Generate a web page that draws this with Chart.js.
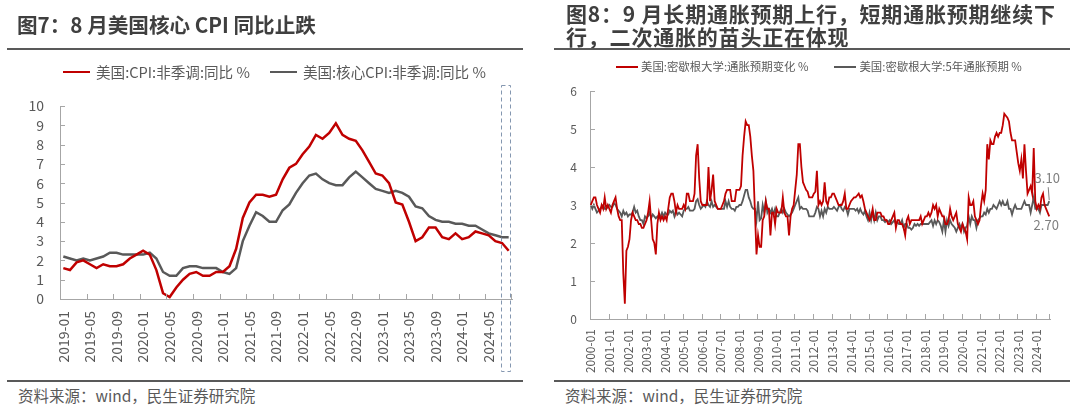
<!DOCTYPE html>
<html>
<head>
<meta charset="utf-8">
<script src="https://cdn.jsdelivr.net/npm/chart.js@4.4.1/dist/chart.umd.min.js"></script>
<style>
  body { margin: 0; width: 1080px; height: 414px; background: #fff; position: relative; overflow: hidden;
         font-family: "Noto Sans CJK SC", "Noto Sans", sans-serif; }
  canvas { position: absolute; top: 0; }
  .title { position: absolute; font-weight: bold; color: #3f3f3f; white-space: nowrap; line-height: 1; }
  .rule { position: absolute; height: 2px; background: #595959; }
  .src { position: absolute; font-size: 15.5px; color: #595959; white-space: nowrap; line-height: 1; }
  .legend { position: absolute; display: flex; align-items: center; color: #595959; white-space: nowrap; line-height: 1; }
  .legend .item { display: flex; align-items: center; }
  .legend .swatch { display: inline-block; }
</style>
</head>
<body>
<canvas id="cpi_chart" width="540" height="380" style="left:0"></canvas>
<canvas id="umich_chart" width="540" height="380" style="left:540px"></canvas>

<div class="title" style="left:17px; top:14px; font-size:20.6px;">图7：8 月美国核心 CPI 同比止跌</div>
<div class="rule" style="left:7px; top:48px; width:516px;"></div>
<div class="legend" id="cpi_legend" style="left:63px; top:65px; font-size:14.6px;"></div>
<div class="rule" style="left:7px; top:380px; width:516px;"></div>
<div class="src" style="left:18px; top:388px;">资料来源：wind，民生证券研究院</div>

<div class="title" style="left:566px; top:3px; font-size:21px; letter-spacing:0.8px;">图8：9 月长期通胀预期上行，短期通胀预期继续下</div>
<div class="title" style="left:566px; top:26px; font-size:21px; letter-spacing:0.8px;">行，二次通胀的苗头正在体现</div>
<div class="rule" style="left:554px; top:48px; width:516px;"></div>
<div class="legend" id="umich_legend" style="left:616px; top:61px; font-size:11.4px;"></div>
<div class="rule" style="left:554px; top:380px; width:516px;"></div>
<div class="src" style="left:565px; top:388px;">资料来源：wind，民生证券研究院</div>

<script>
// ---- data ----
const cpiYoY = [
  1.6, 1.5, 1.9, 2.0, 1.8, 1.6, 1.8, 1.7, 1.7, 1.8, 2.1, 2.3,
  2.5, 2.3, 1.5, 0.3, 0.1, 0.6, 1.0, 1.3, 1.4, 1.2, 1.2, 1.4,
  1.4, 1.7, 2.6, 4.2, 5.0, 5.4, 5.4, 5.3, 5.4, 6.2, 6.8, 7.0,
  7.5, 7.9, 8.5, 8.3, 8.6, 9.1, 8.5, 8.3, 8.2, 7.7, 7.1, 6.5,
  6.4, 6.0, 5.0, 4.9, 4.0, 3.0, 3.2, 3.7, 3.7, 3.2, 3.1, 3.4,
  3.1, 3.2, 3.5, 3.4, 3.3, 3.0, 2.9, 2.5,
];
const coreCpiYoY = [
  2.2, 2.1, 2.0, 2.1, 2.0, 2.1, 2.2, 2.4, 2.4, 2.3, 2.3, 2.3,
  2.3, 2.4, 2.1, 1.4, 1.2, 1.2, 1.6, 1.7, 1.7, 1.6, 1.6, 1.6,
  1.4, 1.3, 1.6, 3.0, 3.8, 4.5, 4.3, 4.0, 4.0, 4.6, 4.9, 5.5,
  6.0, 6.4, 6.5, 6.2, 6.0, 5.9, 5.9, 6.3, 6.6, 6.3, 6.0, 5.7,
  5.6, 5.5, 5.6, 5.5, 5.3, 4.8, 4.7, 4.3, 4.1, 4.0, 4.0, 3.9,
  3.9, 3.8, 3.8, 3.6, 3.4, 3.3, 3.2, 3.2,
];

// Michigan survey, 2000-01 .. 2024-09, one row per year
const umich1y = [
  3.0, 3.1, 3.2, 3.2, 3.0, 2.9, 2.8, 3.0, 2.9, 3.2, 2.9, 3.0,
  2.9, 2.8, 3.0, 3.1, 3.2, 2.9, 2.7, 2.6, 2.6, 1.2, 0.4, 1.8,
  1.9, 2.1, 2.6, 2.8, 2.7, 2.6, 2.6, 2.5, 2.5, 2.4, 2.4, 2.5,
  2.6, 2.8, 3.1, 2.6, 2.1, 2.0, 1.7, 2.5, 2.8, 2.6, 2.7, 2.6,
  2.7, 2.6, 2.9, 3.2, 3.3, 3.3, 3.1, 2.8, 3.0, 2.9, 2.9, 2.9,
  3.0, 2.9, 3.3, 3.3, 3.1, 3.1, 3.1, 3.3, 4.3, 4.6, 3.7, 3.1,
  3.0, 3.0, 3.0, 3.0, 4.0, 3.1, 3.4, 3.8, 3.1, 3.0, 2.9, 2.9,
  2.9, 3.0, 3.1, 3.3, 3.4, 3.4, 3.4, 3.1, 3.1, 3.1, 3.4, 3.4,
  3.4, 3.5, 4.3, 4.8, 5.2, 5.1, 5.1, 4.8, 4.3, 3.9, 2.8, 1.7,
  2.2, 1.9, 1.9, 2.6, 2.7, 3.1, 2.9, 2.9, 2.2, 2.8, 2.8, 2.5,
  2.9, 2.8, 2.8, 2.8, 3.2, 2.8, 2.7, 2.7, 2.2, 2.7, 2.9, 3.0,
  3.4, 3.8, 4.6, 4.6, 4.0, 3.6, 3.5, 3.4, 3.35, 3.2, 3.2, 3.2,
  3.3, 3.35, 3.9, 3.0, 3.1, 3.0, 3.1, 3.6, 3.1, 3.0, 3.2, 3.2,
  3.3, 3.3, 3.2, 3.1, 3.0, 3.0, 3.0, 3.1, 3.3, 2.9, 2.9, 3.0,
  3.1, 3.15, 3.2, 3.2, 3.25, 3.3, 3.2, 3.25, 3.1, 2.9, 2.8, 2.7,
  2.6, 2.7, 2.9, 2.6, 2.6, 2.8, 2.8, 2.8, 2.7, 2.7, 2.6, 2.6,
  2.5, 2.5, 2.6, 2.7, 2.8, 2.4, 2.6, 2.6, 2.5, 2.5, 2.4, 2.2,
  2.6, 2.7, 2.5, 2.6, 2.6, 2.6, 2.6, 2.6, 2.6, 2.7, 2.5, 2.6,
  2.7, 2.7, 2.8, 2.7, 2.8, 3.0, 2.9, 3.0, 2.7, 2.9, 2.8, 2.7,
  2.7, 2.5, 2.5, 2.6, 2.9, 2.7, 2.6, 2.7, 2.8, 2.5, 2.4, 2.3,
  2.5, 2.4, 2.3, 2.1, 3.2, 3.0, 3.0, 3.1, 2.7, 2.6, 2.5, 2.6,
  3.0, 3.3, 3.1, 3.4, 4.6, 4.2, 4.7, 4.6, 4.6, 4.8, 4.9, 4.8,
  4.9, 4.9, 5.1, 5.4, 5.35, 5.3, 5.2, 4.9, 4.7, 4.7, 4.7, 4.4,
  4.1, 3.9, 4.2, 3.7, 4.6, 3.9, 3.3, 3.4, 3.5, 3.3, 4.5, 3.1,
  2.9, 3.0, 2.9, 3.2, 3.3, 3.0, 2.9, 2.8, 2.7,
];
const umich5y = [
  3.0, 2.9, 3.0, 2.9, 2.8, 2.85, 2.9, 2.95, 3.0, 2.9, 2.9, 2.95,
  3.0, 2.95, 2.95, 3.05, 3.0, 2.9, 2.85, 2.8, 2.7, 2.85, 2.75, 2.8,
  2.7, 2.75, 2.75, 2.8, 2.95, 2.8, 2.85, 2.7, 2.6, 2.6, 2.5, 2.7,
  2.65, 2.7, 2.8, 2.65, 2.75, 2.7, 2.65, 2.7, 2.65, 2.7, 2.8, 2.7,
  2.8, 2.75, 2.75, 2.85, 2.8, 2.85, 2.7, 2.85, 2.75, 2.8, 2.75, 2.7,
  2.85, 2.9, 2.9, 2.95, 2.85, 2.85, 2.85, 2.9, 3.1, 3.15, 3.0, 2.9,
  2.95, 3.0, 2.95, 3.1, 3.0, 2.95, 3.1, 2.95, 3.0, 2.95, 2.9, 2.9,
  2.9, 2.9, 2.9, 3.1, 2.95, 3.1, 2.95, 2.9, 2.9, 2.85, 2.95, 2.95,
  3.0, 3.0, 3.1, 3.25, 3.4, 3.4, 3.2, 3.1, 2.95, 2.9, 2.9, 2.6,
  3.1, 2.6, 2.65, 3.0, 2.8, 3.1, 2.8, 2.9, 2.8, 2.9, 2.75, 2.9,
  2.7, 2.7, 2.8, 2.9, 2.8, 2.9, 2.8, 2.75, 2.7, 2.75, 2.8, 2.9,
  3.0, 3.1, 3.2, 2.9, 2.95, 2.9, 2.9, 2.9, 2.85, 2.7, 2.7, 2.7,
  2.7, 2.8, 2.95, 2.9, 2.7, 2.85, 2.7, 2.9, 2.8, 2.95, 2.9, 2.9,
  2.9, 2.95, 2.9, 2.85, 2.95, 3.0, 2.9, 2.85, 2.95, 2.9, 2.75, 2.9,
  2.9, 2.9, 2.9, 2.85, 2.9, 2.8, 2.9, 2.8, 2.75, 2.85, 2.7, 2.6,
  2.8, 2.6, 2.8, 2.6, 2.8, 2.6, 2.7, 2.7, 2.6, 2.6, 2.55, 2.6,
  2.55, 2.6, 2.5, 2.55, 2.6, 2.5, 2.55, 2.5, 2.5, 2.6, 2.4, 2.5,
  2.5, 2.4, 2.4, 2.35, 2.4, 2.5, 2.45, 2.5, 2.45, 2.5, 2.5, 2.5,
  2.5, 2.5, 2.5, 2.55, 2.6, 2.45, 2.6, 2.5, 2.6, 2.55, 2.45, 2.3,
  2.6, 2.3, 2.6, 2.45, 2.6, 2.5, 2.45, 2.4, 2.3, 2.4, 2.5, 2.4,
  2.5, 2.3, 2.4, 2.45, 2.7, 2.5, 2.7, 2.6, 2.6, 2.4, 2.6, 2.65,
  2.7, 2.7, 2.8, 2.75, 2.9, 2.8, 2.9, 2.9, 3.0, 2.95, 2.9, 3.0,
  3.1, 3.0, 3.1, 3.0, 3.0, 3.1, 2.9, 2.9, 2.75, 2.9, 3.0, 2.9,
  2.9, 2.9, 2.9, 3.0, 3.1, 3.0, 3.0, 3.0, 2.8, 3.0, 3.2, 2.9,
  2.9, 2.9, 2.8, 3.0, 3.0, 3.0, 3.0, 3.0, 3.1,
];

function monthLabels(year, month, count) {
  const out = [];
  for (let i = 0; i < count; i++) {
    out.push(year + "-" + String(month).padStart(2, "0"));
    month++;
    if (month > 12) { month = 1; year++; }
  }
  return out;
}
const cpiMonths = monthLabels(2019, 1, cpiYoY.length);
const umichMonths = monthLabels(2000, 1, umich1y.length);

const red = "#c00000";
const grey = "#595959";
const axisColor = "#a6a6a6";
const textColor = "#595959";

Chart.defaults.font.family = '"Noto Sans CJK SC", "Noto Sans", sans-serif';
Chart.defaults.color = textColor;

// small tick marks pointing into the plot, like the original
const innerTicks = {
  id: "innerTicks",
  afterDraw(chart, args, opts) {
    const { ctx, chartArea: area, scales: { x, y } } = chart;
    const half = (x.getPixelForValue(1) - x.getPixelForValue(0)) / 2;
    ctx.save();
    ctx.strokeStyle = opts.color;
    ctx.lineWidth = 1;
    ctx.beginPath();
    for (let i = 0; i < chart.data.labels.length; i += opts.every) {
      const px = Math.round(x.getPixelForValue(i) - half) + 0.5;
      ctx.moveTo(px, area.bottom);
      ctx.lineTo(px, area.bottom - opts.len);
    }
    const endX = Math.round(area.right) - 0.5;
    ctx.moveTo(endX, area.bottom);
    ctx.lineTo(endX, area.bottom - opts.len);
    y.ticks.forEach((t) => {
      const py = Math.round(y.getPixelForValue(t.value)) + 0.5;
      ctx.moveTo(area.left, py);
      ctx.lineTo(area.left + opts.len, py);
    });
    ctx.stroke();
    ctx.restore();
  },
};

// dashed frame round the latest months
const lastMonthBox = {
  id: "lastMonthBox",
  afterDraw(chart, args, opts) {
    if (!opts.show) return;
    const { ctx, chartArea: area, scales: { x } } = chart;
    const n = chart.data.labels.length;
    const x0 = Math.round(x.getPixelForValue(n - 2) - 1.5) + 0.5;
    const x1 = Math.round(x.getPixelForValue(n - 1) + 1.5) + 0.5;
    ctx.save();
    ctx.setLineDash([4, 3]);
    ctx.strokeStyle = opts.color;
    ctx.lineWidth = 1;
    ctx.strokeRect(x0, Math.round(area.top - opts.above) + 0.5, x1 - x0,
      area.bottom - area.top + opts.above + opts.below);
    ctx.restore();
  },
};

// value of the last point of each line
const endLabels = {
  id: "endLabels",
  afterDatasetsDraw(chart, args, opts) {
    if (!opts.offsets) return;
    const { ctx } = chart;
    ctx.save();
    ctx.font = '13px "Noto Sans CJK SC", "Noto Sans", sans-serif';
    ctx.fillStyle = opts.color;
    ctx.strokeStyle = opts.color;
    ctx.textAlign = "center";
    ctx.textBaseline = "middle";
    chart.data.datasets.forEach((ds, di) => {
      const meta = chart.getDatasetMeta(di);
      const pt = meta.data[meta.data.length - 1];
      const off = opts.offsets[di];
      const tx = pt.x + off.dx;
      const ty = pt.y + off.dy;
      ctx.fillText(ds.data[ds.data.length - 1].toFixed(2), tx, ty);
      if (off.leader) {
        ctx.lineWidth = 1;
        ctx.beginPath();
        ctx.moveTo(tx + 1, ty + 9);
        ctx.lineTo(pt.x, pt.y - 1);
        ctx.stroke();
      }
    });
    ctx.restore();
  },
};

function buildLegend(chart, elId, swatch, gap, itemGap) {
  const el = document.getElementById(elId);
  chart.data.datasets.forEach((ds, i) => {
    const item = document.createElement("span");
    item.className = "item";
    if (i > 0) item.style.marginLeft = itemGap + "px";
    const line = document.createElement("span");
    line.className = "swatch";
    line.style.width = swatch + "px";
    line.style.height = "2px";
    line.style.background = ds.borderColor;
    line.style.marginRight = gap + "px";
    const txt = document.createElement("span");
    txt.textContent = ds.label;
    item.appendChild(line);
    item.appendChild(txt);
    el.appendChild(item);
  });
}

function makeChart(elemId, cfg) {
  return new Chart(document.getElementById(elemId), {
    type: "line",
    data: {
      labels: cfg.labels,
      datasets: cfg.series.map((s) => ({
        label: s.label,
        data: s.data,
        borderColor: s.color,
        backgroundColor: s.color,
        borderWidth: cfg.lineWidth,
        pointRadius: 0,
        tension: 0,
      })),
    },
    options: {
      responsive: false,
      animation: false,
      layout: { padding: { left: 0, right: cfg.padRight, top: cfg.padTop, bottom: 0 } },
      plugins: {
        legend: { display: false },
        tooltip: { enabled: false },
        innerTicks: { color: axisColor, len: 5, every: cfg.tickEvery },
        lastMonthBox: cfg.box || { show: false },
        endLabels: cfg.endLabels || {},
      },
      scales: {
        x: {
          type: "category",
          offset: true,
          grid: { display: false, drawTicks: false },
          border: { display: true, color: axisColor, width: 1 },
          ticks: {
            autoSkip: false,
            minRotation: 90,
            maxRotation: 90,
            padding: cfg.xPad,
            color: textColor,
            font: { size: cfg.xFont },
            callback: (v, i) => (i % cfg.tickEvery === 0 ? cfg.labels[i] : null),
          },
          afterFit: (s) => { s.height = cfg.xHeight; },
        },
        y: {
          min: 0,
          max: cfg.yMax,
          grid: { display: false, drawTicks: false },
          border: { display: true, color: axisColor, width: 1 },
          ticks: { stepSize: 1, autoSkip: false, padding: cfg.yPad, color: textColor, font: { size: cfg.yFont } },
          afterFit: (s) => { s.width = cfg.yWidth; },
        },
      },
    },
    plugins: [innerTicks, lastMonthBox, endLabels],
  });
}

const cpiChart = makeChart("cpi_chart", {
  labels: cpiMonths,
  series: [
    { label: "美国:CPI:非季调:同比 %", data: cpiYoY, color: red },
    { label: "美国:核心CPI:非季调:同比 %", data: coreCpiYoY, color: grey },
  ],
  lineWidth: 2.5,
  padRight: 28, padTop: 106,
  tickEvery: 4, xPad: 12, xFont: 14, xHeight: 81,
  yMax: 10, yPad: 16, yFont: 14, yWidth: 60,
  box: { show: true, color: "#8497b0", above: 21, below: 72 },
});
buildLegend(cpiChart, "cpi_legend", 27, 6, 20);

const umichChart = makeChart("umich_chart", {
  labels: umichMonths,
  series: [
    { label: "美国:密歇根大学:通胀预期变化 %", data: umich1y, color: red },
    { label: "美国:密歇根大学:5年通胀预期 %", data: umich5y, color: grey },
  ],
  lineWidth: 1.8,
  padRight: 30, padTop: 91,
  tickEvery: 12, xPad: 10, xFont: 12, xHeight: 61,
  yMax: 6, yPad: 13, yFont: 12, yWidth: 50,
  endLabels: { color: "#7f7f7f", offsets: [{ dx: -3, dy: 9 }, { dx: -2, dy: -23, leader: true }] },
});
buildLegend(umichChart, "umich_legend", 22, 3, 26);
</script>
</body>
</html>
